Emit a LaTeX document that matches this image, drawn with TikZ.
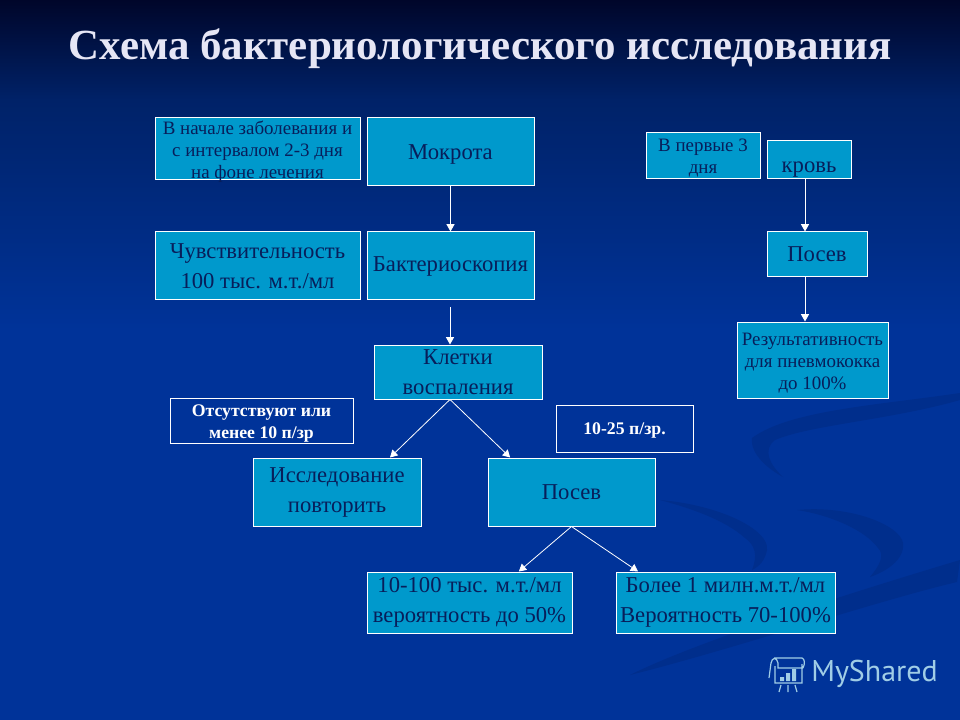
\documentclass[tikz,border=0pt]{standalone}
\usepackage{fontspec}
\setmainfont{Liberation Serif}
\newfontfamily\wmfont{PT Sans}
\usepackage{tikz}
\usetikzlibrary{arrows.meta,positioning,calc}
\definecolor{bgblack}{RGB}{0,6,42}
\definecolor{bgtop}{RGB}{0,34,104}
\definecolor{bgmain}{RGB}{0,51,153}
\definecolor{swoosh}{RGB}{0,46,140}
\definecolor{boxfill}{RGB}{0,153,204}
\definecolor{boxtext}{RGB}{8,30,90}
\definecolor{titletext}{RGB}{230,230,245}
\definecolor{wmark}{RGB}{160,205,230}
\tikzset{>={Stealth[length=5.5pt,width=6pt,inset=0pt]},
          box/.style={rectangle,draw=white,line width=0.75pt,fill=boxfill,text=boxtext,
            align=center,inner sep=0pt},
          small/.style={box,font=\fontsize{14.2}{16.5}\selectfont},
          medium/.style={box,font=\fontsize{17}{22.5}\selectfont},
          note/.style={box,fill=none,text=white,font=\fontsize{13.3}{16.5}\selectfont\bfseries},
          link/.style={->,draw=white,line width=0.75pt},
          slant/.style={->,draw=white,line width=0.6pt},
          titlefont/.style={font=\fontsize{32.2}{38}\selectfont\bfseries}
        }
\newcommand\RectNode[7]{%
          \node[#1,minimum width={(#5-#3)*0.75pt},minimum height={(#6-#4)*0.75pt}] (#2)
          at ({(#3+#5)/2},{(#4+#6)/2}) {#7};
        }
\newcommand\Lift[1]{\rule{0pt}{#1}}
\begin{document}
\begin{tikzpicture}[x=0.75pt,y=-0.75pt]
            \useasboundingbox (0,0) rectangle (960,720);
            \shade[top color=bgblack,bottom color=bgtop] (0,0) rectangle (960,100);
            \shade[top color=bgtop,bottom color=bgmain] (0,100) rectangle (960,330);
            \fill[bgmain] (0,330) rectangle (960,720);
            % background swoosh
            \fill[swoosh] (960,393) .. controls (880,405) and (790,410) .. (752,438)
              .. controls (750,455) and (770,470) .. (783,477)
              .. controls (770,465) and (762,450) .. (775,440)
              .. controls (810,425) and (890,420) .. (960,400) -- cycle;
            \fill[swoosh] (797,510) .. controls (850,505) and (900,525) .. (903,543)
              .. controls (905,560) and (885,572) .. (870,577)
              .. controls (880,565) and (885,555) .. (878,548)
              .. controls (865,530) and (830,515) .. (797,510) -- cycle;
            \fill[swoosh] (660,500) .. controls (720,505) and (770,530) .. (767,550)
              .. controls (765,560) and (760,566) .. (752,570)
              .. controls (758,555) and (755,545) .. (745,538)
              .. controls (725,520) and (690,508) .. (660,500) -- cycle;
            \fill[swoosh] (960,560) -- (957,582) .. controls (880,600) and (730,650) .. (630,675)
              .. controls (700,640) and (860,590) .. (960,560) -- cycle;

            \node[titlefont,text=titletext] (title) at (480,49) {Схема бактериологического исследования};

            \RectNode{small}{start}{155}{118}{360}{180}{\Lift{12pt}В начале заболевания и\\с интервалом 2-3 дня\\\smash{на фоне лечения}}
            \RectNode{medium,text height=15pt,text depth=3.5pt}{sputum}{367}{118}{534}{186}{Мокрота}
            \RectNode{medium}{sens}{155}{232}{360}{300}{Чувствительность\\100 тыс. м.т./мл}
            \RectNode{medium}{micro}{367}{232}{534}{300}{Бактериоскопия}
            \RectNode{medium}{cells}{374}{345}{542}{399}{Клетки\\воспаления}
            \RectNode{note}{absent}{170}{398}{353}{443}{\Lift{13.5pt}Отсутствуют или\\менее 10 п/зр}
            \RectNode{note}{few}{556}{405}{693}{452}{\Lift{12pt}10-25 п/зр.}
            \RectNode{medium}{repeat}{253}{458}{421}{526}{Исследование\\повторить}
            \RectNode{medium}{culture}{488}{458}{655}{526}{Посев}
            \RectNode{medium}{low}{367}{572}{572}{633}{10-100 тыс. м.т./мл\\вероятность до 50\%}
            \RectNode{medium}{high}{616}{572}{835}{633}{Более 1 милн.м.т./мл\\Вероятность 70-100\%}

            \RectNode{small}{first}{646}{133}{760}{179}{\Lift{13pt}В первые 3\\дня}
            \RectNode{medium,text height=23pt,text depth=3.5pt}{blood}{767}{141}{851}{179}{кровь}
            \RectNode{medium}{bloodcult}{767}{232}{867}{277}{Посев}
            \RectNode{small}{result}{737}{322}{888}{398}{\Lift{14pt}Результативность\\для пневмококка\\до 100\%}

            \coordinate (microout) at (450,307);
            \coordinate (bloodline) at (805,200);

            \draw[link] (sputum.south) -- (micro.north);
            \draw[link] (microout) -- (microout |- cells.north);
            \draw[slant] ([xshift=-6pt]cells.south) -- ([xshift=39.75pt]repeat.north);
            \draw[slant] ([xshift=-6pt]cells.south) -- ([xshift=-46pt]culture.north);
            \draw[slant] (culture.south) -- ([xshift=37pt]low.north);
            \draw[slant] (culture.south) -- ([xshift=-65.6pt]high.north);
            \draw[link] (bloodline |- blood.south) -- (bloodline |- bloodcult.north);
            \draw[link] (bloodline |- bloodcult.south) -- (bloodline |- result.north);

            % logo
            \draw[wmark,line width=0.9pt] (775,666) -- (775,683) -- (802,683) -- (802,664)
              (769,678) -- (771,663) .. controls (772,657) and (777,657) .. (778,663) -- (778,668) -- (803,668)
              (774,658) -- (802,658) .. controls (805,659) and (805,664) .. (803,668)
              (781,685) -- (779,692) (788,685) -- (788,692) (795,685) -- (797,692);
            \fill[wmark] (780,677) rectangle (784,681) (786,673) rectangle (790,681) (792,669) rectangle (796,681);
            \node[wmark,font=\fontsize{22.5}{26}\wmfont,anchor=west,inner sep=0pt] (logo) at (811,674) {MyShared};
          \end{tikzpicture}
\end{document}
